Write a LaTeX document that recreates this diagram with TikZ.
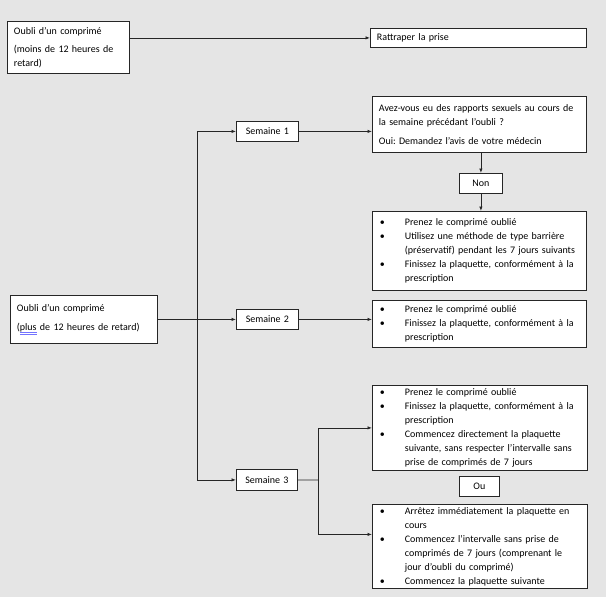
\documentclass[tikz,border=0pt]{standalone}
\usepackage{fontspec}
\setmainfont{Carlito}
\usetikzlibrary{arrows.meta,positioning}

\newcommand{\itm}{\makebox[26pt][l]{\hspace{1pt}\textbullet}}
\newcommand{\cnt}{\hspace*{26pt}}
\newcommand{\flagged}[1]{\setbox0=\hbox{#1}%
  \rlap{\textcolor{blue!55}{\rule[-2.4pt]{\wd0}{0.45pt}}}%
  \rlap{\textcolor{blue!55}{\rule[-3.8pt]{\wd0}{0.45pt}}}\box0\relax}
\frenchspacing

\begin{document}
\begin{tikzpicture}[
  x=1pt,y=-1pt,
  >={Latex[length=4.5pt,width=3.5pt]},
  box/.style={draw=black!85,fill=white,line width=0.8pt,anchor=north west,
    align=left,inner xsep=6.5pt,inner ysep=1pt,
    font=\fontsize{10}{14}\selectfont},
  week/.style={box,align=center,inner xsep=0pt},
  conn/.style={->,line width=0.8pt,black!85}
]
\useasboundingbox[fill=black!10] (0,0) rectangle (606,597);

\node[box,text width=109pt,minimum height=52pt] (a) at (7,21)
  {Oubli d’un comprimé\\[4pt](moins de 12 heures de\\retard)};
\node[box,text width=203pt,minimum height=19pt] (r) at (370,28)
  {Rattraper la prise};

\node[box,text width=134pt,minimum height=48pt] (plus) at (10,295)
  {Oubli d’un comprimé\\[5pt](\flagged{plus} de 12 heures de retard)};

\node[week,text width=62pt,minimum height=20pt] (s1) at (236,121) {Semaine 1};
\node[week,text width=62pt,minimum height=20pt] (s2) at (236,309) {Semaine 2};
\node[week,text width=61pt,minimum height=21pt] (s3) at (236,469) {Semaine 3};

\node[box,text width=201pt,minimum height=56pt] (q) at (372,96)
  {Avez-vous eu des rapports sexuels au cours de\\la semaine précédant l’oubli ?\\[5pt]Oui: Demandez l’avis de votre médecin};
\node[week,text width=43pt,minimum height=20pt] (non) at (459,173) {Non};
\node[box,text width=201pt,minimum height=79pt] (b1) at (372,211)
  {\itm Prenez le comprimé oublié\\
   \itm Utilisez une méthode de type barrière\\
   \cnt (préservatif) pendant les 7 jours suivants\\
   \itm Finissez la plaquette, conformément à la\\
   \cnt prescription};
\node[box,text width=201pt,minimum height=47pt] (b2) at (372,300)
  {\itm Prenez le comprimé oublié\\
   \itm Finissez la plaquette, conformément à la\\
   \cnt prescription};

\node[box,text width=202pt,minimum height=85pt] (c1) at (372,385)
  {\itm Prenez le comprimé oublié\\
   \itm Finissez la plaquette, conformément à la\\
   \cnt prescription\\
   \itm Commencez directement la plaquette\\
   \cnt suivante, sans respecter l’intervalle sans\\
   \cnt prise de comprimés de 7 jours};
\node[week,text width=40pt,minimum height=20pt] (ou) at (459,476) {Ou};
\node[box,text width=202pt,minimum height=84pt] (c2) at (372,504)
  {\itm Arrêtez immédiatement la plaquette en\\
   \cnt cours\\
   \itm Commencez l’intervalle sans prise de\\
   \cnt comprimés de 7 jours (comprenant le\\
   \cnt jour d’oubli du comprimé)\\
   \itm Commencez la plaquette suivante};

\coordinate (jn) at (197,319);
\coordinate (br) at (318,480);

\draw[conn] (r.west -| a.east) -- (r.west);
\draw[conn] (plus) -- (s2);
\draw[conn] (jn) |- (s1);
\draw[conn] (jn) |- (s3);
\draw[conn] (s1) -- (s1 -| q.west);
\draw[conn] (non |- q.south) -- (non);
\draw[conn] (non) -- (non |- b1.north);
\draw[conn] (s2) -- (s2 -| b2.west);
\draw[line width=0.8pt,black!85] (s3) -- (br);
\draw[conn] (br) |- (c1);
\draw[conn] (br) |- ([yshift=12pt]c2.west);
\end{tikzpicture}
\end{document}
